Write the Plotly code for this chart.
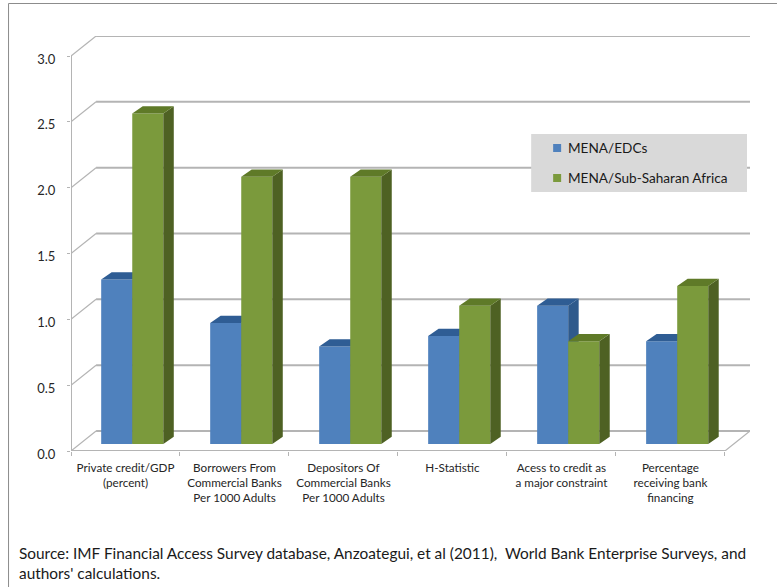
import plotly.graph_objects as go

# values
categories = ['Private credit/GDP<br>(percent)',
              'Borrowers From<br>Commercial Banks<br>Per 1000 Adults',
              'Depositors Of<br>Commercial Banks<br>Per 1000 Adults',
              'H-Statistic',
              'Acess to credit as<br>a major constraint',
              'Percentage<br>receiving bank<br>financing']
mena_edcs = [1.25, 0.92, 0.74, 0.82, 1.05, 0.78]
mena_ssa = [2.51, 2.03, 2.03, 1.05, 0.78, 1.20]
y_ticks = [0, 0.5, 1, 1.5, 2, 2.5, 3]

W, H = 777, 587
L, R, T, B = 70.5, 750, 36, 451
# depth of the back wall and of the bars, in axis units
wall_dx, wall_dy = 0.23, 0.152
bar_dx, bar_dy = 0.096, 0.055
floor = 0.053
bar_w = 0.285
blue_off, green_off = 0.277, 0.562
n = len(categories)
x_range = [0, n + wall_dx]
y_range = [0, 3 + wall_dy]

font = 'Lato, sans-serif'
grid_col = '#b4b4b4'
colors = {'blue': '#4f81bd', 'blue top': '#2f5d94', 'blue side': '#2f5a8c',
          'green': '#7b9a3c', 'green top': '#5f7a28', 'green side': '#4e6123'}


def px(x):
    return (x - L) / (R - L)


def py(y):
    return (B - y) / (B - T)


def side_faces(values, off):
    xs, ys = [], []
    for i, v in enumerate(values):
        x1 = i + off + bar_w
        xs += [x1, x1 + bar_dx, x1 + bar_dx, x1, x1, None]
        ys += [floor, floor + bar_dy, floor + v + bar_dy, floor + v, floor, None]
    return xs, ys


def top_faces(values, off):
    xs, ys = [], []
    for i, v in enumerate(values):
        x0 = i + off
        x1 = x0 + bar_w
        t = floor + v
        xs += [x0, x1, x1 + bar_dx, x0 + bar_dx, x0, None]
        ys += [t, t, t + bar_dy, t + bar_dy, t, None]
    return xs, ys


def add_series(fig, values, off, name, key, xa, ya):
    fig.add_trace(go.Bar(x=list(range(n)), y=values, base=floor, offset=off, width=bar_w,
                         name=name, showlegend=False, xaxis=xa, yaxis=ya,
                         marker=dict(color=colors[key], line=dict(width=0))))
    for faces, part in ((side_faces, ' side'), (top_faces, ' top')):
        xs, ys = faces(values, off)
        fig.add_trace(go.Scatter(x=xs, y=ys, mode='lines', fill='toself', showlegend=False,
                                 fillcolor=colors[key + part], line=dict(width=0),
                                 hoverinfo='skip', xaxis=xa, yaxis=ya))


def legend_key(y0, key):
    return dict(type='rect', xref='paper', yref='paper', x0=px(553), x1=px(561), y0=py(y0 + 8), y1=py(y0),
                fillcolor=colors[key], line=dict(width=0), layer='above')


def label(text, x, y, size):
    return dict(text=text, xref='paper', yref='paper', x=px(x), y=py(y), xanchor='left', yanchor='middle',
                showarrow=False, font=dict(size=size, color='#1a1a1a'))


fig = go.Figure()

# back wall gridlines and the diagonals running to the front axis
wall_x, wall_y, diag_x, diag_y = [], [], [], []
for v in y_ticks:
    wall_x += [wall_dx, n + wall_dx, None]
    wall_y += [v + wall_dy, v + wall_dy, None]
    diag_x += [0, wall_dx, None]
    diag_y += [v, v + wall_dy, None]
diag_x += [n, n + wall_dx, None]
diag_y += [0, wall_dy, None]
fig.add_trace(go.Scatter(x=wall_x, y=wall_y, mode='lines', showlegend=False, hoverinfo='skip',
                         cliponaxis=False, line=dict(color=grid_col, width=2)))
fig.add_trace(go.Scatter(x=diag_x, y=diag_y, mode='lines', showlegend=False, hoverinfo='skip',
                         cliponaxis=False, line=dict(color=grid_col, width=1.2)))
fig.add_trace(go.Scatter(x=[0, 0, None, 0, n], y=[3, 0, None, 0, 0], mode='lines', showlegend=False,
                         hoverinfo='skip', cliponaxis=False, line=dict(color=grid_col, width=2)))

add_series(fig, mena_edcs, blue_off, 'MENA/EDCs', 'blue', 'x2', 'y2')
add_series(fig, mena_ssa, green_off, 'MENA/Sub-Saharan Africa', 'green', 'x3', 'y3')

hidden = dict(range=x_range, visible=False, fixedrange=True)
hidden_y = dict(range=y_range, visible=False, fixedrange=True)

fig.update_layout(
    width=W, height=H, autosize=False, showlegend=False,
    margin=dict(l=L, r=W - R, t=T, b=H - B, pad=0, autoexpand=False),
    paper_bgcolor='white', plot_bgcolor='white', barmode='overlay',
    font=dict(family=font, color='#262626'),
    xaxis=dict(range=x_range, tickmode='array', tickvals=[i + 0.5 for i in range(n)], ticktext=categories,
               tickfont=dict(size=11.7), ticks='', showgrid=False, zeroline=False, showline=False,
               ticklabelstandoff=8, tickangle=0,
               minor=dict(tickmode='linear', tick0=0, dtick=1, ticks='outside', ticklen=4,
                          tickwidth=1, tickcolor=grid_col, showgrid=False)),
    yaxis=dict(range=y_range, tickmode='array', tickvals=y_ticks, tickformat='.1f', tickfont=dict(size=13),
               ticks='outside', ticklen=3, tickwidth=1, tickcolor=grid_col, showgrid=False, zeroline=False,
               showline=False, ticklabelstandoff=9, ticklabelshift=3),
    xaxis2=dict(overlaying='x', **hidden), yaxis2=dict(overlaying='y', **hidden_y),
    xaxis3=dict(overlaying='x', **hidden), yaxis3=dict(overlaying='y', **hidden_y),
    shapes=[
        # legend panel
        dict(type='rect', xref='paper', yref='paper', x0=px(531), x1=px(747), y0=py(192), y1=py(134),
             fillcolor='#d9d9d9', line=dict(width=0), layer='above'),
        legend_key(144, 'blue'),
        legend_key(174, 'green'),
        # chart frame
        dict(type='line', xref='paper', yref='paper', x0=px(8), x1=px(8), y0=py(587), y1=py(3.5),
             line=dict(color='#8c8c8c', width=1)),
        dict(type='line', xref='paper', yref='paper', x0=px(8), x1=px(777), y0=py(3.5), y1=py(3.5),
             line=dict(color='#8c8c8c', width=1)),
    ],
    annotations=[
        label('MENA/EDCs', 566, 148, 13.6),
        label('MENA/Sub-Saharan Africa', 566, 178, 13.6),
        label('Source: IMF Financial Access Survey database, Anzoategui, et al (2011),  '
              'World Bank Enterprise Surveys, and', 16.5, 553, 15.4),
        label("authors' calculations.", 16.5, 573, 15.4),
    ],
)

fig.write_html("out.html", config=dict(displayModeBar=False), post_script="document.body.style.margin='0';")
